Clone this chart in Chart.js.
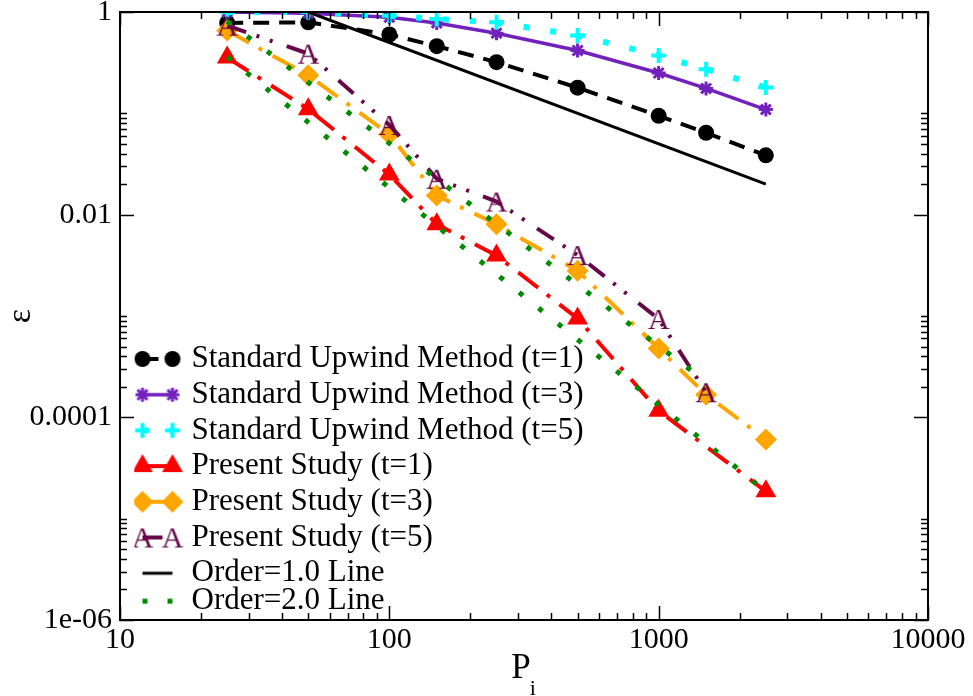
<!DOCTYPE html>
<html>
<head>
<meta charset="utf-8">
<script src="https://cdn.jsdelivr.net/npm/chart.js@4.4.1/dist/chart.umd.min.js"></script>
<style>
  html, body { margin: 0; padding: 0; background: #fff; }
  #wrap { width: 973px; height: 696px; }
</style>
</head>
<body>
<div id="wrap"><canvas id="errChart" width="973" height="696"></canvas></div>
<script>
// grid sizes P_i used by the runs
const pts = [25, 50, 100, 150, 250, 500, 1000, 1500, 2500];

// error values (null = no marker at that P_i)
const upwindT1 = [0.78, 0.79, 0.60, 0.46, 0.32, 0.179, 0.0945, 0.0643, 0.0385];
const upwindT3 = [1.0, 0.97, 0.887, 0.78, 0.618, 0.417, 0.25, 0.176, 0.109];
const upwindT5 = [1.0, 1.0, 0.92, 0.854, 0.79, 0.586, 0.373, 0.272, 0.18];
const presentT1 = [0.355, 0.11, 0.0249, 0.00805, 0.00395, 0.000947, 0.000116, null, 0.0000186];
const presentT3 = [0.655, 0.237, 0.0622, 0.0155, 0.00803, 0.0028, 0.000478, 0.000167, 0.0000604];
const presentT5 = [0.734, 0.388, 0.0768, 0.0226, 0.01347, 0.00399, 0.000935, 0.000177, null];

// reference slope lines
const order1X = [50, 2500];
const order1Y = [1, 0.02];
const order2aX = [25, 1500];
const order2aY = [0.81, 0.000225];
const order2bX = [25, 2500];
const order2bY = [0.36, 0.0000186];

const seriesNames = [
    'Standard Upwind Method (t=1)',
    'Standard Upwind Method (t=3)',
    'Standard Upwind Method (t=5)',
    'Present Study (t=1)',
    'Present Study (t=3)',
    'Present Study (t=5)',
    'Order=1.0 Line',
    'Order=2.0 Line'
];

const xTickVals = [10, 100, 1000, 10000];
const xTickLabels = ['10', '100', '1000', '10000'];
const yTickVals = [1e-6, 1e-4, 1e-2, 1];
const yTickLabels = ['1e-06', '0.0001', '0.01', '1'];

const serif = "'Liberation Serif', 'Times New Roman', serif";

function pairs(xs, ys) {
    const out = [];
    xs.forEach((x, i) => { if (ys[i] !== null) out.push({ x: x, y: ys[i] }); });
    return out;
}

// "A" character symbol
const aGlyph = document.createElement('canvas');
aGlyph.width = 32; aGlyph.height = 32;
(function () {
    const g = aGlyph.getContext('2d');
    g.fillStyle = '#670748';
    g.font = '30px ' + serif;
    g.textAlign = 'center';
    g.textBaseline = 'alphabetic';
    g.fillText('A', 16, 26);
})();

function drawMarker(g, kind, x, y, color) {
    g.save();
    g.fillStyle = color; g.strokeStyle = color;
    g.setLineDash([]);
    g.beginPath();
    if (kind === 'circle') {
        g.arc(x, y, 8, 0, Math.PI * 2); g.fill();
    } else if (kind === 'star') {
        const r = 7, d = r * Math.SQRT1_2;
        g.lineWidth = 3;
        g.moveTo(x - r, y); g.lineTo(x + r, y);
        g.moveTo(x, y - r); g.lineTo(x, y + r);
        g.moveTo(x - d, y - d); g.lineTo(x + d, y + d);
        g.moveTo(x - d, y + d); g.lineTo(x + d, y - d);
        g.stroke();
    } else if (kind === 'cross') {
        const r = 7.5;
        g.lineWidth = 4;
        g.moveTo(x - r, y); g.lineTo(x + r, y);
        g.moveTo(x, y - r); g.lineTo(x, y + r);
        g.stroke();
    } else if (kind === 'triangle') {
        const r = 12;
        g.moveTo(x, y - r);
        g.lineTo(x + r * Math.sin(Math.PI * 2 / 3), y + r / 2);
        g.lineTo(x - r * Math.sin(Math.PI * 2 / 3), y + r / 2);
        g.closePath(); g.fill();
    } else if (kind === 'rectRot') {
        const r = 11;
        g.moveTo(x, y - r); g.lineTo(x + r, y); g.lineTo(x, y + r); g.lineTo(x - r, y);
        g.closePath(); g.fill();
    } else if (kind === 'A') {
        g.drawImage(aGlyph, x - 16, y - 16);
    }
    g.restore();
}

function legendIcon(color, width, dash, marker) {
    const c = document.createElement('canvas');
    c.width = 60; c.height = 30;
    const g = c.getContext('2d');
    g.strokeStyle = color;
    g.lineWidth = width;
    g.setLineDash(dash);
    g.beginPath(); g.moveTo(15, 15); g.lineTo(45, 15); g.stroke();
    if (marker) {
        drawMarker(g, marker, 15, 15, color);
        drawMarker(g, marker, 45, 15, color);
    }
    return c;
}

const styles = [
    { color: '#000000', width: 4, dash: [16, 10], marker: 'circle', pointStyle: 'circle', radius: 8, bw: 0 },
    { color: '#7221bc', width: 3.5, dash: [], marker: 'star', pointStyle: 'star', radius: 7, bw: 3 },
    { color: '#00ffff', width: 6, dash: [6, 21], marker: 'cross', pointStyle: 'cross', radius: 7.5, bw: 4 },
    { color: '#ff0000', width: 4, dash: [25, 11, 4, 12], marker: 'triangle', pointStyle: 'triangle', radius: 12, bw: 0 },
    { color: '#ffa500', width: 4, dash: [25, 11, 4, 12], marker: 'rectRot', pointStyle: 'rectRot', radius: 11, bw: 0 },
    { color: '#670748', width: 4, dash: [20, 11, 3, 11, 3, 15], marker: 'A', pointStyle: aGlyph, radius: 10, bw: 0 },
    { color: '#000000', width: 3, dash: [], marker: null, pointStyle: false, radius: 0, bw: 0 },
    { color: '#008b00', width: 5, dash: [5, 20], marker: null, pointStyle: false, radius: 0, bw: 0 }
];

const seriesData = [
    pairs(pts, upwindT1),
    pairs(pts, upwindT3),
    pairs(pts, upwindT5),
    pairs(pts, presentT1),
    pairs(pts, presentT3),
    pairs(pts, presentT5),
    pairs(order1X, order1Y),
    pairs(order2aX, order2aY),
    pairs(order2bX, order2bY)
];

const datasets = seriesData.map((data, i) => {
    const s = styles[Math.min(i, 7)];
    return {
        label: seriesNames[Math.min(i, 7)],
        data: data,
        order: -i,
        borderColor: s.color,
        backgroundColor: s.color,
        borderWidth: s.width,
        borderDash: s.dash,
        tension: 0,
        fill: false,
        pointStyle: s.pointStyle,
        pointRadius: s.radius,
        pointHoverRadius: s.radius,
        pointBackgroundColor: s.color,
        pointBorderColor: s.color,
        pointBorderWidth: s.bw
    };
});

const legendItems = seriesNames.map((name, i) => {
    const s = styles[i];
    return {
        // array text makes the row after it sit closer, like the original
        text: i === 6 ? [name] : name,
        pointStyle: legendIcon(s.color, s.width, s.dash, s.marker),
        fillStyle: s.color,
        strokeStyle: s.color,
        lineWidth: 0,
        hidden: false,
        fontColor: '#000',
        datasetIndex: i
    };
});

const legendPlace = {
    id: 'legendPlace',
    afterLayout(chart) {
        const lg = chart.legend;
        const a = chart.chartArea;
        lg.left = a.left + 14.3;
        lg.top = a.top + 326.8;
        lg.bottom = chart.height;
    }
};

const frame = {
    id: 'frame',
    afterDraw(chart) {
        const { ctx, chartArea: a } = chart;
        const xs = chart.scales.x, ys = chart.scales.y;
        const major = 14, minor = 7;
        ctx.save();
        ctx.strokeStyle = '#000';
        ctx.lineWidth = 1.5;
        ctx.beginPath();
        const xTick = (v, len) => {
            const p = Math.round(xs.getPixelForValue(v)) + 0.5;
            ctx.moveTo(p, a.bottom); ctx.lineTo(p, a.bottom - len);
            ctx.moveTo(p, a.top); ctx.lineTo(p, a.top + len);
        };
        const yTick = (v, len) => {
            const p = Math.round(ys.getPixelForValue(v)) + 0.5;
            ctx.moveTo(a.left, p); ctx.lineTo(a.left + len, p);
            ctx.moveTo(a.right, p); ctx.lineTo(a.right - len, p);
        };
        xTickVals.forEach(v => xTick(v, major));
        xTickVals.slice(0, -1).forEach(v => {
            for (let k = 2; k <= 9; k++) xTick(v * k, minor);
        });
        yTickVals.forEach(v => yTick(v, major));
        yTickVals.slice(0, -1).forEach(v => {
            for (let k = 2; k <= 10; k++) yTick(v * k, minor);
        });
        ctx.stroke();
        ctx.lineWidth = 2;
        ctx.strokeRect(a.left, a.top, a.right - a.left, a.bottom - a.top);

        // x axis title P with subscript i
        ctx.fillStyle = '#000';
        ctx.textBaseline = 'alphabetic';
        ctx.textAlign = 'left';
        ctx.font = '35px ' + serif;
        const wP = ctx.measureText('P').width;
        ctx.font = '22px ' + serif;
        const wi = ctx.measureText('i').width;
        const x0 = (a.left + a.right) / 2 - (wP + wi) / 2;
        ctx.font = '35px ' + serif;
        ctx.fillText('P', x0, 678);
        ctx.font = '22px ' + serif;
        ctx.fillText('i', x0 + wP - 1, 695);
        ctx.restore();
    }
};

const ctx = document.getElementById('errChart').getContext('2d');
const errChart = new Chart(ctx, {
    type: 'line',
    data: { datasets: datasets },
    options: {
        responsive: false,
        animation: false,
        events: [],
        layout: { padding: { top: 8, right: 45, left: 0, bottom: 0 } },
        scales: {
            x: {
                type: 'logarithmic',
                min: 10,
                max: 10000,
                grid: { display: false, drawTicks: false },
                border: { display: false },
                afterBuildTicks: s => { s.ticks = xTickVals.map(v => ({ value: v })); },
                afterFit: s => { s.height = 76; s.paddingLeft = 0; s.paddingRight = 0; },
                ticks: {
                    color: '#000',
                    font: { family: serif, size: 30 },
                    padding: 2,
                    maxRotation: 0,
                    autoSkip: false,
                    callback: (v, i) => xTickLabels[i]
                }
            },
            y: {
                type: 'logarithmic',
                min: 1e-6,
                max: 1,
                grid: { display: false, drawTicks: false },
                border: { display: false },
                afterBuildTicks: s => { s.ticks = yTickVals.map(v => ({ value: v })); },
                afterFit: s => { s.width = 120; s.paddingTop = 0; s.paddingBottom = 0; },
                title: {
                    display: true,
                    text: 'ε',
                    color: '#000',
                    font: { family: serif, size: 34, lineHeight: 1.2 },
                    padding: { top: 1, bottom: 0 }
                },
                ticks: {
                    color: '#000',
                    font: { family: serif, size: 30 },
                    padding: 8,
                    autoSkip: false,
                    callback: (v, i) => yTickLabels[i]
                }
            }
        },
        plugins: {
            legend: {
                position: 'chartArea',
                align: 'start',
                labels: {
                    usePointStyle: true,
                    pointStyleWidth: 37,
                    boxHeight: 31,
                    padding: 4.7,
                    color: '#000',
                    font: { family: serif, size: 31, lineHeight: 0.75 },
                    generateLabels: () => legendItems
                }
            },
            tooltip: { enabled: false }
        }
    },
    plugins: [legendPlace, frame]
});
</script>
</body>
</html>
